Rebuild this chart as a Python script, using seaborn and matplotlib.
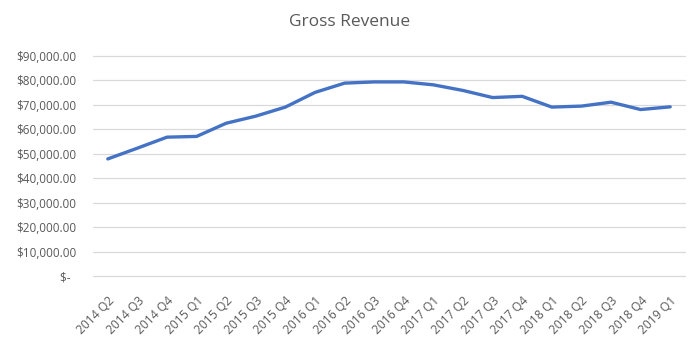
import matplotlib
matplotlib.use("Agg")
import matplotlib.pyplot as plt
import seaborn as sns
import pandas as pd

quarters = ["2014 Q2", "2014 Q3", "2014 Q4", "2015 Q1", "2015 Q2", "2015 Q3",
            "2015 Q4", "2016 Q1", "2016 Q2", "2016 Q3", "2016 Q4", "2017 Q1",
            "2017 Q2", "2017 Q3", "2017 Q4", "2018 Q1", "2018 Q2", "2018 Q3",
            "2018 Q4", "2019 Q1"]
revenue = [47900, 52300, 56800, 57100, 62500, 65400, 69100, 75100, 78900, 79400,
           79400, 78200, 75900, 73000, 73500, 69100, 69500, 71100, 68100, 69200]
y_ticks = [0, 10000, 20000, 30000, 40000, 50000, 60000, 70000, 80000, 90000]
y_labels = ["$-  "] + [f"${v:,.2f}" for v in y_ticks[1:]]

df = pd.DataFrame({"quarter": quarters, "revenue": revenue, "pos": range(len(quarters))})

sns.set_theme(style="white")
plt.rcParams["font.family"] = ["Open Sans", "DejaVu Sans"]

fig = plt.figure(figsize=(7.0, 3.39), dpi=100)
ax = fig.add_axes([93 / 700, 1 - 276 / 339, 592 / 700, 220 / 339])

sns.lineplot(data=df, x="pos", y="revenue", ax=ax, color="#4472C4",
             linewidth=2.4, solid_capstyle="round")

text_color = "#595959"
ax.set_xlim(-0.5, len(quarters) - 0.5)
ax.set_ylim(0, 90000)
ax.set_yticks(y_ticks)
ax.set_yticklabels(y_labels, fontsize=8.5, color=text_color)
ax.set_xticks(range(len(quarters)))
ax.set_xticklabels(quarters, rotation=45, ha="right", rotation_mode="anchor",
                   fontsize=8.7, color=text_color)
ax.tick_params(axis="y", length=0, pad=12)
ax.tick_params(axis="x", length=0, pad=13)
ax.grid(axis="y", color="#D9D9D9", linewidth=0.9)
for gl in ax.get_ygridlines():
    gl.set_clip_on(False)
ax.set_axisbelow(True)
for s in ax.spines.values():
    s.set_visible(False)
ax.set_xlabel("")
ax.set_ylabel("")

fig.text(0.5, 1 - 22 / 339, "Gross Revenue", ha="center", va="center",
         fontsize=12.5, color=text_color)

fig.savefig("out.png", dpi=100, facecolor="white")
